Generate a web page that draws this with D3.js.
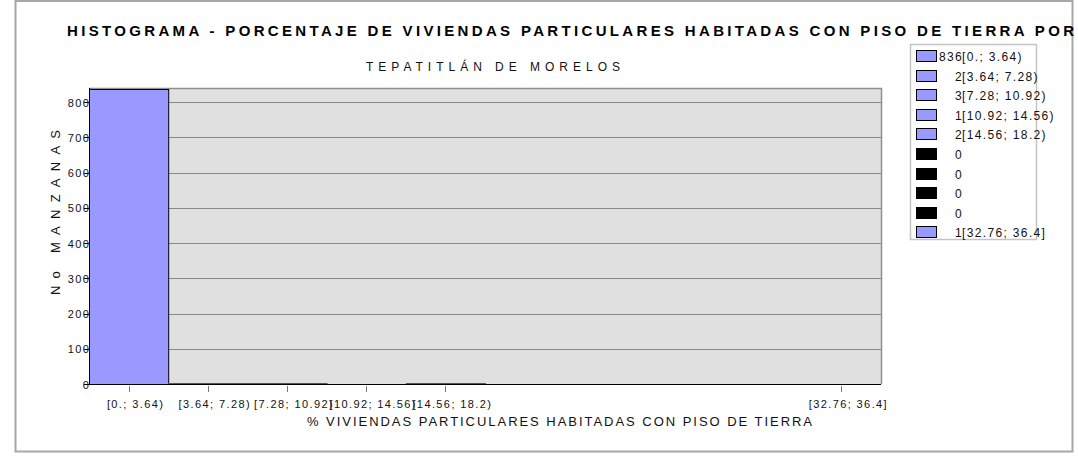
<!DOCTYPE html>
<html lang="es">
<head>
  <meta charset="UTF-8">
  <title>Histograma - Piso de tierra</title>
  <script src="https://d3js.org/d3.v7.min.js"></script>
  <style>
    body { margin: 0; background: #fff; }
    svg { font-family: "Liberation Sans", Arial, sans-serif; }
    .tick-label { font-size: 11px; letter-spacing: 1.4px; fill: #111; }
    .legend-text { font-size: 12px; letter-spacing: 1.35px; fill: #111; }
  </style>
</head>
<body>
  <div id="chart"></div>

  <script>
    // datos del histograma
    const binLabels = ["[0.; 3.64)", "[3.64; 7.28)", "[7.28; 10.92)", "[10.92; 14.56)", "[14.56; 18.2)",
                       "[18.2; 21.84)", "[21.84; 25.48)", "[25.48; 29.12)", "[29.12; 32.76)", "[32.76; 36.4]"];
    const counts = [836, 2, 3, 1, 2, 0, 0, 0, 0, 1];
    const yTicks = [0, 100, 200, 300, 400, 500, 600, 700, 800];

    const title = "HISTOGRAMA - PORCENTAJE DE VIVIENDAS PARTICULARES HABITADAS CON PISO DE TIERRA POR";
    const subtitle = "TEPATITLÁN DE MORELOS";
    const xTitle = "% VIVIENDAS PARTICULARES HABITADAS CON PISO DE TIERRA";
    const yTitle = "No MANZANAS";

    const dataset = binLabels.map((label, i) => ({ label, count: counts[i] }));

    const W = 1078, H = 458;
    const plot = { left: 89, right: 881, top: 88, bottom: 384 };

    const svg = d3.select("#chart").append("svg")
      .attr("width", W).attr("height", H);

    // marco exterior
    svg.append("rect")
      .attr("x", 15.5).attr("y", 1).attr("width", 1057).attr("height", 450.5)
      .attr("fill", "none").attr("stroke", "#a8a8a8").attr("stroke-width", 2);

    const x = d3.scaleBand()
      .domain(binLabels)
      .range([plot.left, plot.right])
      .padding(0);

    const y = d3.scaleLinear()
      .domain([0, 840])
      .range([plot.bottom, plot.top]);

    // fondo del area
    svg.append("rect")
      .attr("x", plot.left).attr("y", plot.top)
      .attr("width", plot.right - plot.left).attr("height", plot.bottom - plot.top)
      .attr("fill", "#e0e0e0");

    // lineas de rejilla
    svg.append("g")
      .selectAll("line")
      .data(yTicks.filter(d => d > 0))
      .enter().append("line")
      .attr("x1", plot.left).attr("x2", plot.right)
      .attr("y1", d => Math.round(y(d)) + 0.5).attr("y2", d => Math.round(y(d)) + 0.5)
      .attr("stroke", "#8a8a8a");

    // borde superior y derecho
    svg.append("path")
      .attr("d", `M${plot.left},${plot.top + 0.5}H${plot.right + 0.5}V${plot.bottom}`)
      .attr("fill", "none").attr("stroke", "#909090").attr("stroke-width", 1.5);

    // barras
    svg.append("g")
      .selectAll("rect")
      .data(dataset.filter(d => Math.round(y(0) - y(d.count)) > 0))
      .enter().append("rect")
      .attr("x", d => x(d.label) + 0.5)
      .attr("y", d => y(0) - Math.round(y(0) - y(d.count)) + 0.5)
      .attr("width", x.bandwidth())
      .attr("height", d => Math.round(y(0) - y(d.count)))
      .attr("fill", "#9999ff")
      .attr("stroke", d => d.count > 10 ? "#000" : "#555")
      .attr("stroke-width", 1);

    // ejes
    svg.append("line")
      .attr("x1", plot.left + 0.5).attr("x2", plot.left + 0.5)
      .attr("y1", plot.top).attr("y2", plot.bottom)
      .attr("stroke", "#000");
    svg.append("line")
      .attr("x1", plot.left).attr("x2", plot.right)
      .attr("y1", plot.bottom + 0.5).attr("y2", plot.bottom + 0.5)
      .attr("stroke", "#000");

    // eje y: marcas y etiquetas
    const yAxis = svg.append("g");
    yAxis.selectAll("line")
      .data(yTicks)
      .enter().append("line")
      .attr("x1", plot.left - 5).attr("x2", plot.left)
      .attr("y1", d => Math.round(y(d)) + 0.5).attr("y2", d => Math.round(y(d)) + 0.5)
      .attr("stroke", "#000");
    yAxis.selectAll("text")
      .data(yTicks)
      .enter().append("text")
      .attr("class", "tick-label")
      .attr("x", plot.left + 1.4)
      .attr("y", d => y(d) + 4.5)
      .attr("text-anchor", "end")
      .text(d => d);

    // eje x: solo clases con datos
    const nonEmpty = dataset.filter(d => d.count > 0);
    const xAxis = svg.append("g");
    xAxis.selectAll("line")
      .data(nonEmpty)
      .enter().append("line")
      .attr("x1", d => Math.round(x(d.label) + x.bandwidth() / 2) + 0.5)
      .attr("x2", d => Math.round(x(d.label) + x.bandwidth() / 2) + 0.5)
      .attr("y1", plot.bottom + 2).attr("y2", plot.bottom + 8)
      .attr("stroke", "#777");
    xAxis.selectAll("text")
      .data(nonEmpty)
      .enter().append("text")
      .attr("class", "tick-label")
      .attr("x", d => x(d.label) + x.bandwidth() / 2 + 7)
      .attr("y", 408)
      .attr("text-anchor", "middle")
      .text(d => d.label);

    // titulos
    svg.append("text")
      .attr("x", 67).attr("y", 36)
      .attr("textLength", 1007).attr("lengthAdjust", "spacing")
      .attr("font-size", 15).attr("font-weight", "bold").attr("fill", "#000")
      .text(title);

    svg.append("text")
      .attr("x", 366).attr("y", 71)
      .attr("textLength", 254).attr("lengthAdjust", "spacing")
      .attr("font-size", 12).attr("fill", "#111")
      .text(subtitle);

    svg.append("text")
      .attr("x", 307).attr("y", 426)
      .attr("textLength", 505).attr("lengthAdjust", "spacing")
      .attr("font-size", 13).attr("fill", "#111")
      .text(xTitle);

    svg.append("text")
      .attr("transform", "translate(60,295) rotate(-90)")
      .attr("textLength", 165).attr("lengthAdjust", "spacing")
      .attr("font-size", 13).attr("fill", "#111")
      .text(yTitle);

    // leyenda
    const legend = svg.append("g");
    legend.append("rect")
      .attr("x", 910.5).attr("y", 44.5).attr("width", 126).attr("height", 195)
      .attr("fill", "#fff").attr("stroke", "#c4c4c4").attr("stroke-width", 1.5);

    const rows = legend.selectAll("g.row")
      .data(dataset)
      .enter().append("g")
      .attr("class", "row")
      .attr("transform", (d, i) => `translate(0, ${Math.round(56 + i * 19.6)})`);

    rows.append("rect")
      .attr("x", 916.5).attr("y", -5.5).attr("width", 20).attr("height", 11)
      .attr("fill", d => d.count > 0 ? "#9999ff" : "#000")
      .attr("stroke", "#000");

    // conteo alineado a la derecha y clase a continuacion, en un solo texto
    const rowText = rows.append("text")
      .attr("class", "legend-text")
      .attr("y", 4.5);
    rowText.append("tspan")
      .attr("x", 963)
      .attr("text-anchor", "end")
      .text(d => d.count);
    rowText.append("tspan")
      .attr("x", 962)
      .attr("text-anchor", "start")
      .text(d => d.count > 0 ? d.label : "");
  </script>
</body>
</html>
